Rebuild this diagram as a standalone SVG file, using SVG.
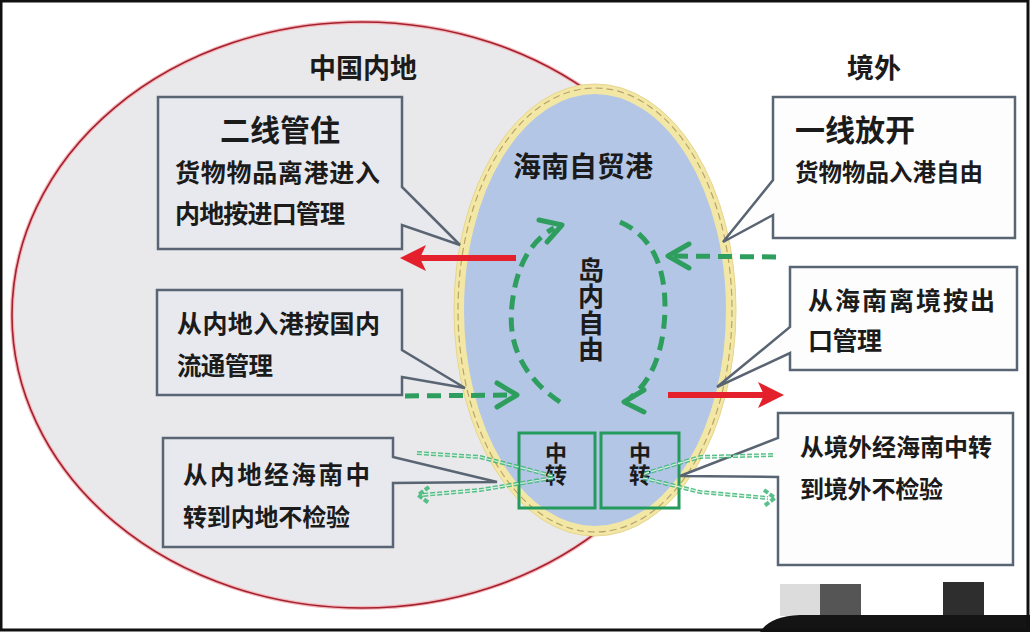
<svg xmlns="http://www.w3.org/2000/svg" width="1030" height="632" viewBox="0 0 1030 632">
<defs>
<style>
text{font-family:"Noto Sans CJK SC","Noto Sans",sans-serif;font-weight:700;fill:#1b1b1b}
.box{stroke:#5a6573;stroke-width:2.5;stroke-linejoin:miter}
.lbox{fill:#e7e9ee}
.rbox{fill:#fdfdfd}
.red{stroke:#e3202b;stroke-width:6;fill:none}
.redhead{fill:#e3202b}
.gd{stroke:#2e9e5f;stroke-width:5;fill:none;stroke-dasharray:14 8}
.gh{stroke:#2e9e5f;stroke-width:5;fill:none;stroke-linecap:round;stroke-linejoin:round}
.tr{stroke:#3bb574;stroke-width:4;fill:none;stroke-dasharray:5 2;opacity:0.85}
.tri{stroke:#d4f3e0;stroke-width:1.2;fill:none;stroke-dasharray:5 2}
.tbox{fill:none;stroke:#249a5c;stroke-width:3}
</style>
</defs>
<rect x="0" y="0" width="1030" height="632" fill="#ffffff"/>
<g id="mainland">
<ellipse cx="362" cy="315" rx="350" ry="293" fill="#e9e9eb" stroke="#f4b8bc" stroke-width="4"/>
<ellipse cx="362" cy="315" rx="350" ry="293" fill="none" stroke="#a3202e" stroke-width="1.6"/>
<text x="363" y="78" font-size="27" text-anchor="middle">中国内地</text>
</g>
<g id="abroad">
<text x="874" y="78" font-size="27" text-anchor="middle">境外</text>
</g>
<g id="hainan">
<ellipse cx="595" cy="310" rx="136" ry="221" fill="#b4c6e6" stroke="#f3e7a6" stroke-width="10"/>
<ellipse cx="595" cy="310" rx="141" ry="226" fill="none" stroke="#e6d58e" stroke-width="1"/>
<ellipse cx="595" cy="310" rx="137" ry="222" fill="none" stroke="#b8a46a" stroke-width="1.2" stroke-dasharray="7 4"/>
<text x="583" y="177" font-size="28" text-anchor="middle">海南自贸港</text>
<text x="591" y="257" font-size="26" writing-mode="vertical-rl" textLength="105" lengthAdjust="spacing">岛内自由</text>
</g>
<g id="transit1">
<rect x="519" y="433" width="76" height="75" class="tbox"/>
<text x="556" y="442" font-size="22" writing-mode="vertical-rl">中转</text>
</g>
<g id="transit2">
<rect x="601" y="433" width="78" height="75" class="tbox"/>
<text x="640" y="442" font-size="22" writing-mode="vertical-rl">中转</text>
</g>
<g id="box-second-line">
<path class="box lbox" d="M158,97 H402 V187 L460,245 L402,225 V249 H158 Z"/>
<text x="280" y="141" font-size="30" text-anchor="middle">二线管住</text>
<text x="175" y="182" font-size="25" textLength="205" lengthAdjust="spacing">货物物品离港进入</text>
<text x="175" y="223" font-size="25" textLength="170" lengthAdjust="spacing">内地按进口管理</text>
</g>
<g id="box-first-line">
<path class="box rbox" d="M773,97 H1015 V238 H773 V215 L723,242 L773,180 Z"/>
<text x="795" y="141" font-size="30">一线放开</text>
<text x="795" y="181" font-size="23.5" textLength="188" lengthAdjust="spacing">货物物品入港自由</text>
</g>
<g id="box-domestic">
<path class="box lbox" d="M157,290 H402 V350 L465,388 L402,377 V395 H157 Z"/>
<text x="177" y="333" font-size="25" textLength="203" lengthAdjust="spacing">从内地入港按国内</text>
<text x="177" y="375" font-size="24.5" textLength="96" lengthAdjust="spacing">流通管理</text>
</g>
<g id="box-export">
<path class="box rbox" d="M790,267 H1017 V370 H790 V353 L717,387 L790,327 Z"/>
<text x="808" y="310" font-size="25" textLength="187" lengthAdjust="spacing">从海南离境按出</text>
<text x="808" y="350" font-size="25" textLength="74" lengthAdjust="spacing">口管理</text>
</g>
<g id="box-transit-mainland">
<path class="box lbox" d="M163,438 H393 V457 L497,482 L393,483 V547 H163 Z"/>
<text x="183" y="484" font-size="24.5" textLength="187" lengthAdjust="spacing">从内地经海南中</text>
<text x="183" y="526" font-size="24" textLength="167" lengthAdjust="spacing">转到内地不检验</text>
</g>
<g id="box-transit-abroad">
<path class="box rbox" d="M778,413 H1013 V565 H778 V477 L680,476 L778,438 Z"/>
<text x="800" y="456" font-size="24" textLength="192" lengthAdjust="spacing">从境外经海南中转</text>
<text x="800" y="498" font-size="24" textLength="143" lengthAdjust="spacing">到境外不检验</text>
</g>
<g id="connectors">
<line class="red" x1="516" y1="258" x2="418" y2="258"/>
<path class="redhead" d="M400,258 L426,245 L420,258 L426,271 Z"/>
<line class="red" x1="668" y1="395" x2="766" y2="395"/>
<path class="redhead" d="M784,395 L758,382 L764,395 L758,408 Z"/>
<line class="gd" x1="776" y1="257" x2="672" y2="256"/>
<polyline class="gh" points="689,244 668,256 689,268"/>
<line class="gd" x1="405" y1="396" x2="512" y2="395"/>
<polyline class="gh" points="497,383 517,395 497,407"/>
<path class="gd" d="M560,402 Q505,365 512,305 Q518,248 554,228"/>
<polyline class="gh" points="539,220 562,225 547,242"/>
<path class="gd" d="M620,222 Q666,242 665,310 Q663,372 630,398"/>
<polyline class="gh" points="644,390 624,402 644,412"/>
<path class="tr" d="M417,453 L480,457 L553,476"/>
<path class="tri" d="M417,453 L480,457 L553,476"/>
<path class="tr" d="M553,478 L480,490 L422,495"/>
<path class="tri" d="M553,478 L480,490 L422,495"/>
<polyline class="tr" points="429,487 418,495 429,503"/>
<path class="tr" d="M773,455 L700,457 L643,474"/>
<path class="tri" d="M773,455 L700,457 L643,474"/>
<path class="tr" d="M643,478 L700,492 L768,498"/>
<path class="tri" d="M643,478 L700,492 L768,498"/>
<polyline class="tr" points="764,490 775,498 764,506"/>
</g>
<g id="frame">
<rect x="780" y="584" width="40" height="32" fill="#dcdcdc"/>
<rect x="820" y="584" width="41" height="32" fill="#555555"/>
<rect x="943" y="582" width="41" height="34" fill="#2e2e2e"/>
<path d="M760,632 Q770,616 800,615 L1030,615 L1030,632 Z" fill="#141414"/>
<rect x="1" y="1" width="1027" height="629" fill="none" stroke="#111111" stroke-width="3"/>
</g>
</svg>
